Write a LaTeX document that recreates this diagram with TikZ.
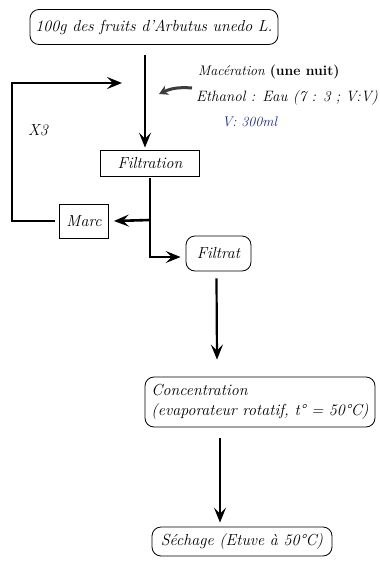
\documentclass[tikz,border=0pt]{standalone}
\usepackage{fontspec}
\usetikzlibrary{arrows.meta}
\definecolor{volblue}{RGB}{20,40,140}
\definecolor{bendgray}{RGB}{60,60,60}
\begin{document}
\begin{tikzpicture}[x=1pt,y=-1pt,
    every node/.style={font=\fontsize{16}{19}\selectfont\itshape},
    note/.style={anchor=west,inner sep=1pt,font=\fontsize{14}{17}\selectfont\itshape},
    stepbox/.style={draw,thick,minimum height=26pt,inner sep=2pt},
    roundbox/.style={draw,thick,rounded corners=9pt,inner sep=3pt},
    flow/.style={line width=2.2pt,-{Stealth[length=15pt,width=12pt,inset=6pt]}},
    link/.style={line width=2.6pt}]
  \useasboundingbox (0,0) rectangle (380,563);
  % Starting material
  \node[roundbox,minimum width=248pt,minimum height=35pt] (fruit) at (154,27) {100g des fruits d'Arbutus unedo L.};
  % Maceration conditions
  \node[note] (mac) at (197,72) {Macération {\upshape\bfseries (une nuit)}};
  \node[note,font=\fontsize{15}{18}\selectfont\itshape] (solv) at (195,98) {Ethanol : Eau (7 : 3 ; V:V)};
  \node[note,text=volblue] (vol) at (221,122) {V: 300ml};
  \draw[line width=3pt,bendgray,-{Stealth[length=9pt,width=10pt]}] ([xshift=-3pt]solv.west) ++(0,-10) to[bend right=15] (159,94);
  % Filtration step
  \node[stepbox,minimum width=99pt] (filt) at (150,163) {Filtration};
  \draw[flow] ([shift={(-9pt,-10pt)}]fruit.south) -- ([shift={(-5pt,2pt)}]filt.north);
  % Residue and recycling loop
  \node[stepbox,minimum width=49pt,minimum height=34pt] (marc) at (84,221) {Marc};
  \node (rep) at (38,130) {X3};
  \coordinate (loopend) at (120,83);
  \draw[link] ([xshift=-4pt]marc.west) -| (12,83) -- (loopend);
  \draw[flow,line width=2.6pt,shorten >=-2pt] (12,83) -- (loopend);
  % Filtrate
  \node[roundbox,minimum width=65pt,minimum height=35pt] (filtrat) at (218.5,253.5) {Filtrat};
  \coordinate (split) at (150,220);
  \coordinate (corner) at (150,257);
  \draw[link] ([yshift=-2pt]filt.south) -- (corner);
  \draw[flow,line width=2.6pt] (split) -- ([xshift=5pt]marc.east);
  \draw[flow,line width=2.6pt] ([xshift=-1.3pt]corner) -- ([shift={(-5pt,-3.5pt)}]filtrat.west);
  % Concentration
  \node[roundbox,minimum width=230pt,minimum height=50pt,align=left] (conc) at (260,402) {Concentration\\[1pt](evaporateur rotatif, t° = 50°C)};
  \draw[flow] ([shift={(-2pt,-7pt)}]filtrat.south) -- ([shift={(-43pt,17pt)}]conc.north);
  % Drying
  \node[roundbox,minimum width=180pt,minimum height=29pt] (sech) at (242,541.5) {Séchage (Etuve à 50°C)};
  \draw[flow] ([shift={(-40pt,-11pt)}]conc.south) -- ([shift={(-22pt,4pt)}]sech.north);
\end{tikzpicture}
\end{document}
